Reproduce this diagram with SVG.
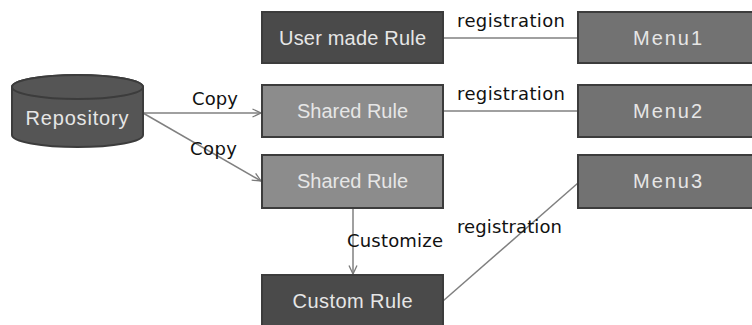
<svg xmlns="http://www.w3.org/2000/svg" width="752" height="325" viewBox="0 0 752 325">
<defs>
<marker id="arr" viewBox="0 0 10 10" refX="9.5" refY="5" markerWidth="10" markerHeight="10" markerUnits="userSpaceOnUse" orient="auto">
<path d="M1,1 L9.5,5 L1,9" fill="none" stroke="#7a7a7a" stroke-width="1.3"/>
</marker>
</defs>
<style>
.box{stroke:#3c3c3c;stroke-width:2}
.dark{fill:#4a4a4a}
.mid{fill:#8c8c8c}
.menu{fill:#727272}
.bt{font-family:"Liberation Sans",Arial,sans-serif;font-size:20px;fill:#e6e6e6;text-anchor:middle}
.lbl{font-family:"DejaVu Sans",sans-serif;font-size:18px;fill:#111}
.ln{stroke:#808080;stroke-width:1.5;fill:none}
</style>
<rect width="752" height="325" fill="#ffffff"/>
<g id="connectors">
<line class="ln" x1="143" y1="113" x2="261" y2="113" marker-end="url(#arr)"/>
<line class="ln" x1="143" y1="113" x2="261" y2="181" marker-end="url(#arr)"/>
<line class="ln" x1="443" y1="38" x2="578" y2="38"/>
<line class="ln" x1="443" y1="111" x2="578" y2="111"/>
<line class="ln" x1="443" y1="301" x2="578" y2="183"/>
<line class="ln" x1="353" y1="208" x2="353" y2="274" marker-end="url(#arr)"/>
<text class="lbl" x="192" y="105" textLength="46">Copy</text>
<text class="lbl" x="190" y="155" textLength="47">Copy</text>
<text class="lbl" x="457" y="27" textLength="108">registration</text>
<text class="lbl" x="457" y="100" textLength="108">registration</text>
<text class="lbl" x="457" y="233" textLength="105">registration</text>
<text class="lbl" x="347" y="247" textLength="96">Customize</text>
</g>
<g id="repository">
<path class="box" d="M12,87 L12,135 A65.5,12 0 0 0 143,135 L143,87 A65.5,12 0 0 0 12,87 Z" fill="#555555"/>
<ellipse cx="77.5" cy="87" rx="65.5" ry="12" fill="#555555" stroke="#3c3c3c" stroke-width="2"/>
<text class="bt" x="77" y="125" textLength="103">Repository</text>
</g>
<g id="user-made-rule">
<rect class="box dark" x="262" y="12" width="181" height="51"/>
<text class="bt" x="352.5" y="45" textLength="147">User made Rule</text>
</g>
<g id="shared-rule-1">
<rect class="box mid" x="262" y="85" width="181" height="52"/>
<text class="bt" x="352.5" y="118" textLength="111">Shared Rule</text>
</g>
<g id="shared-rule-2">
<rect class="box mid" x="262" y="155" width="181" height="53"/>
<text class="bt" x="352.5" y="188" textLength="111">Shared Rule</text>
</g>
<g id="custom-rule">
<rect class="box dark" x="262" y="275" width="181" height="52"/>
<text class="bt" x="352.5" y="308" textLength="120">Custom Rule</text>
</g>
<g id="menu1">
<rect class="box menu" x="578" y="12" width="176" height="51"/>
<text class="bt" x="667.5" y="45" textLength="69">Menu1</text>
</g>
<g id="menu2">
<rect class="box menu" x="578" y="85" width="176" height="52"/>
<text class="bt" x="667.5" y="118" textLength="69">Menu2</text>
</g>
<g id="menu3">
<rect class="box menu" x="578" y="155" width="176" height="53"/>
<text class="bt" x="667.5" y="188" textLength="69">Menu3</text>
</g>
</svg>
